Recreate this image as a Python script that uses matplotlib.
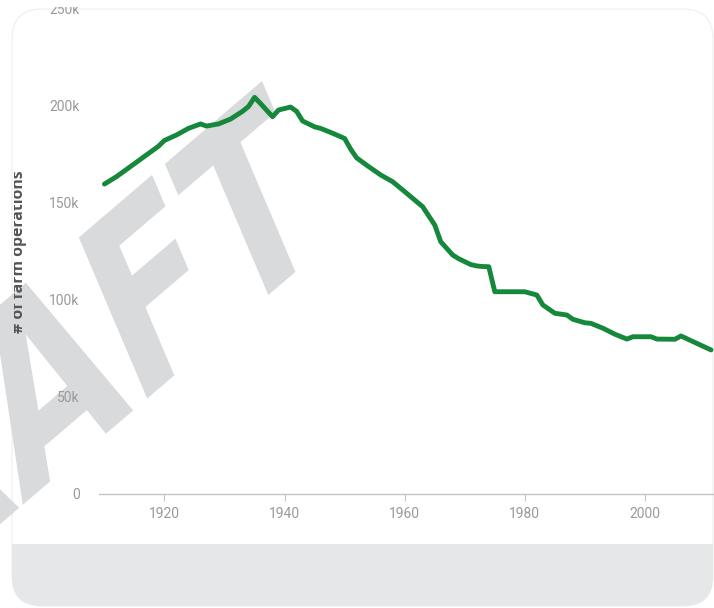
import numpy as np
import matplotlib
matplotlib.use('Agg')
import matplotlib.pyplot as plt
from matplotlib import font_manager
from matplotlib.patches import FancyBboxPatch, Rectangle, PathPatch
from matplotlib.textpath import TextPath
from matplotlib.font_manager import FontProperties
from matplotlib.transforms import Affine2D, Bbox, TransformedBbox

W, H = 714, 608

# farm operations by year (thousands)
years = [1910, 1912, 1915, 1917, 1919, 1920, 1922, 1924, 1926, 1927, 1929, 1931,
         1933, 1934, 1935, 1936, 1938, 1939, 1941, 1942, 1943, 1945, 1946, 1948,
         1950, 1951, 1952, 1954, 1956, 1958, 1960, 1961, 1963, 1965, 1966, 1968,
         1969, 1970, 1971, 1972, 1973, 1974, 1975, 1980, 1982, 1983, 1985, 1987,
         1988, 1990, 1991, 1993, 1995, 1997, 1998, 2001, 2002, 2005, 2006, 2008,
         2011]
farms_k = [159.5, 163.3, 170.0, 174.5, 179.0, 182.0, 184.8, 188.2, 190.5, 189.4,
           190.5, 193.0, 197.0, 199.5, 204.2, 201.0, 194.2, 197.7, 199.2, 197.0,
           192.0, 189.0, 188.2, 185.7, 183.0, 177.5, 173.0, 168.5, 164.2, 160.7,
           155.6, 153.0, 147.8, 138.4, 129.8, 122.9, 121.0, 119.5, 118.0, 117.3,
           117.0, 116.9, 104.0, 104.0, 102.3, 97.2, 92.9, 92.0, 89.8, 88.0,
           87.7, 85.2, 82.1, 79.6, 80.8, 80.8, 79.6, 79.5, 81.2, 78.3, 74.0]

x_ticks = [1920, 1940, 1960, 1980, 2000]
y_ticks = [0, 50, 100, 150, 200, 250]
y_tick_labels = ['0', '50k', '100k', '150k', '200k', '250k']
y_title = '# of farm operations'
watermark = 'DRAFT'

names = {f.name for f in font_manager.fontManager.ttflist}
tick_font = 'Liberation Sans Narrow' if 'Liberation Sans Narrow' in names else 'Roboto'
tick_size = 12 if tick_font == 'Liberation Sans Narrow' else 10

fig = plt.figure(figsize=(W / 100, H / 100), dpi=100)
fig.patch.set_facecolor('white')
px = Affine2D().scale(1.0 / W, 1.0 / H) + fig.transFigure

# card with grey footer
card = FancyBboxPatch((12, 2), 701, 597, boxstyle='round,pad=0,rounding_size=30',
                      fc='white', ec='#eeeeee', lw=0.8, transform=px, zorder=-3)
fig.add_artist(card)
footer = Rectangle((12, 2), 701, 62, fc='#e6e7e9', ec='none', transform=px, zorder=-2)
footer.set_clip_path(card)
fig.add_artist(footer)

# slanted watermark, only "AFT" is inside the picture
tp = TextPath((0, 0), watermark, size=1,
              prop=FontProperties(family='DejaVu Sans', weight='bold'))
ext = tp.get_extents()
ang_u, ang_v = np.radians(40.5), np.radians(113)
em_u, em_v = 190.0, 240.0
shape = Affine2D(np.array([[em_u * np.cos(ang_u), em_v * np.cos(ang_v), 262.0],
                           [em_u * np.sin(ang_u), em_v * np.sin(ang_v), H - 81.0],
                           [0.0, 0.0, 1.0]]))
wm = PathPatch(tp, fc='#d9dadc', ec='none',
               transform=Affine2D().translate(-ext.x1, -ext.y1) + shape + px, zorder=-1)
fig.add_artist(wm)

ax = fig.add_axes([99 / W, 1 - 493.5 / H, 1 - 99 / W, (493.5 - 8.5) / H])
ax.set_facecolor('none')
ax.plot(years, farms_k, color='#15883c', lw=3.5,
        solid_joinstyle='round', solid_capstyle='round')

ax.set_xlim(1909.1, 2011.5)
ax.set_ylim(0, 250)
ax.set_xticks(x_ticks)
ax.set_xticklabels([str(y) for y in x_ticks])
ax.set_yticks(y_ticks)
ax.set_yticklabels(y_tick_labels)

for s in ['left', 'top', 'right']:
    ax.spines[s].set_visible(False)
ax.spines['bottom'].set_color('#c4c4c4')
ax.spines['bottom'].set_linewidth(1)
ax.tick_params(axis='x', length=5, width=0.8, color='#c4c4c4', pad=5,
               labelcolor='#9a9a9a', labelsize=tick_size)
ax.tick_params(axis='y', length=0, pad=14, labelcolor='#9a9a9a', labelsize=tick_size)
for lab in ax.get_xticklabels() + ax.get_yticklabels():
    lab.set_fontfamily(tick_font)

# the top of the picture cuts the 250k label
fig.add_artist(Rectangle((0, H - 7), W, 7, fc='white', ec='none', transform=px, zorder=5))

yl = fig.text(23.3 / W, 1 - 252 / H, y_title, rotation=90, rotation_mode='anchor',
              ha='center', va='baseline', fontsize=11.3, fontweight='bold',
              color='#555555', family='Open Sans')
yl.set_clip_box(TransformedBbox(Bbox.from_extents(13.5, 0, W, H), px))
yl.set_clip_on(True)

fig.savefig('out.png', dpi=100, facecolor='white')
